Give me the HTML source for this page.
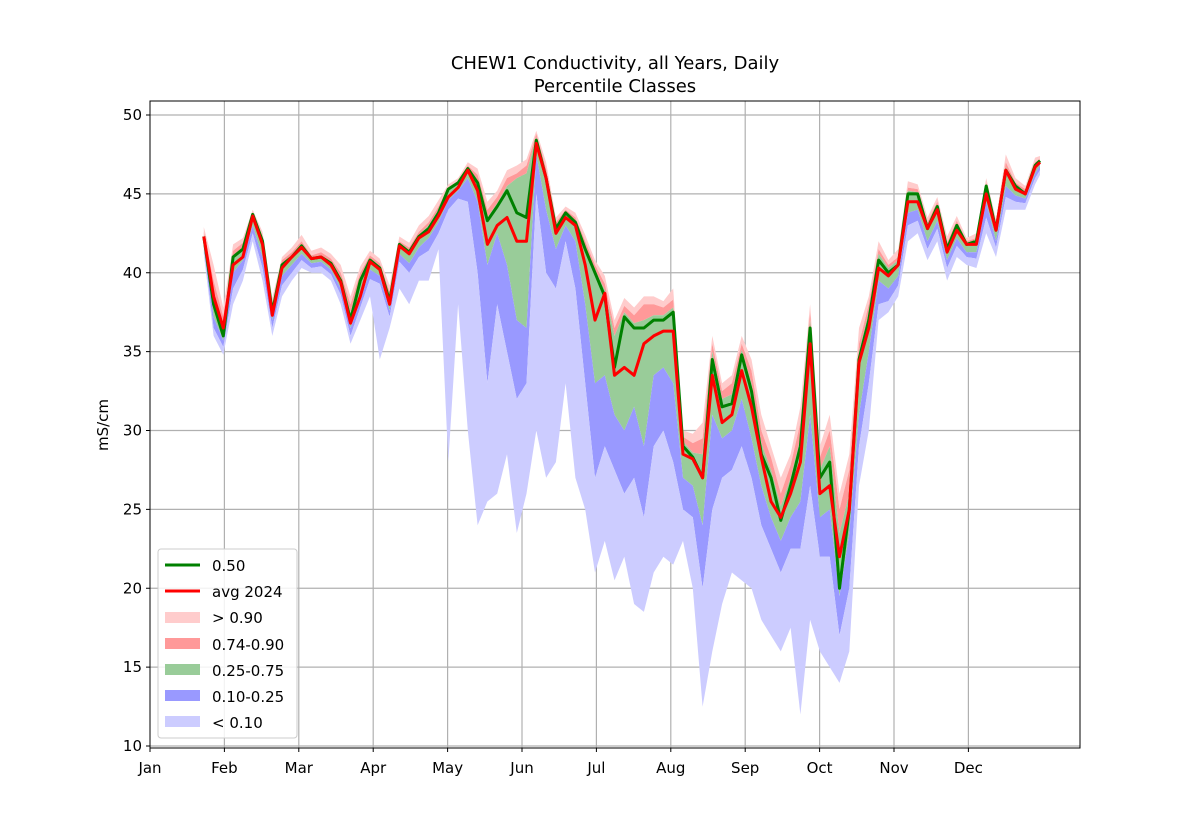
<!DOCTYPE html>
<html><head><meta charset="utf-8"><style>
html,body{margin:0;padding:0;background:#fff;}
svg{display:block;font-family:"DejaVu Sans","Liberation Sans",sans-serif;}
</style></head><body>
<svg id="chart" width="1200" height="840" viewBox="0 0 1200 840" xmlns="http://www.w3.org/2000/svg">
<rect x="0" y="0" width="1200" height="840" fill="#fff"/>
<text x="615" y="69" font-size="18" text-anchor="middle">CHEW1 Conductivity, all Years, Daily</text>
<text x="615" y="92" font-size="18" text-anchor="middle">Percentile Classes</text>
<g id="grid"></g>
<g id="bands"></g>
<g id="lines"></g>
<g id="axes"></g>
<text transform="translate(108,425) rotate(-90)" font-size="15" text-anchor="middle">mS/cm</text>
<g>
<rect x="158" y="549" width="139" height="189" rx="3" fill="#fff" fill-opacity="0.85" stroke="#ccc"/>
<line x1="165" y1="565" x2="200" y2="565" stroke="#008000" stroke-width="3"/>
<text x="212" y="571" font-size="15">0.50</text>
<line x1="165" y1="591" x2="200" y2="591" stroke="#ff0000" stroke-width="3"/>
<text x="212" y="597" font-size="15">avg 2024</text>
<rect x="165" y="612" width="35" height="11" fill="#ffcccc"/>
<text x="212" y="623" font-size="15">&gt; 0.90</text>
<rect x="165" y="638" width="35" height="11" fill="#ff9999"/>
<text x="212" y="650" font-size="15">0.74-0.90</text>
<rect x="165" y="664" width="35" height="11" fill="#99cc99"/>
<text x="212" y="676" font-size="15">0.25-0.75</text>
<rect x="165" y="690" width="35" height="11" fill="#9999ff"/>
<text x="212" y="702" font-size="15">0.10-0.25</text>
<rect x="165" y="716" width="35" height="11" fill="#ccccff"/>
<text x="212" y="728" font-size="15">&lt; 0.10</text>
</g>
</svg>
<script>
const days=[22,26,30,34,38,42,46,50,54,58,62,66,70,74,78,82,86,90,94,98,102,106,110,114,118,122,126,130,134,138,142,146,150,154,158,162,166,170,174,178,182,186,190,194,198,202,206,210,214,218,222,226,230,234,238,242,246,250,254,258,262,266,270,274,278,282,286,290,294,298,302,306,310,314,318,322,326,330,334,338,342,346,350,354,358,362,364];
const median=[42.3,38.0,36.0,41.0,41.5,43.7,42.0,37.5,40.5,41.0,41.7,40.9,41.0,40.6,39.5,37.0,39.5,40.8,40.3,38.2,41.8,41.3,42.3,42.8,43.8,45.3,45.7,46.6,45.7,43.3,44.2,45.2,43.8,43.5,48.4,46.0,42.8,43.8,43.2,41.5,40.0,38.5,34.0,37.2,36.5,36.5,37.0,37.0,37.5,29.0,28.3,27.0,34.5,31.5,31.7,34.8,32.5,28.5,27.0,24.3,26.5,29.0,36.5,27.0,28.0,20.0,25.0,34.5,37.0,40.8,40.0,40.5,45.0,45.0,42.8,44.2,41.5,43.0,41.8,42.0,45.5,42.7,46.5,45.5,45.0,46.8,47.1];
const avg2024=[42.3,38.5,36.5,40.5,41.0,43.6,41.8,37.3,40.3,41.0,41.6,40.9,41.0,40.5,39.4,36.8,38.5,40.7,40.2,38.0,41.7,41.2,42.2,42.6,43.6,44.8,45.4,46.5,45.2,41.8,43.0,43.5,42.0,42.0,48.2,46.0,42.5,43.5,43.0,40.5,37.0,38.7,33.5,34.0,33.5,35.5,36.0,36.3,36.3,28.5,28.2,27.0,33.5,30.5,31.0,33.8,31.5,28.3,25.5,24.5,26.0,28.0,35.5,26.0,26.5,22.0,25.0,34.3,36.5,40.3,39.8,40.5,44.5,44.5,42.8,44.0,41.3,42.7,41.8,41.8,45.0,42.7,46.5,45.3,45.0,46.7,47.0];
const pMax=[42.9,40.5,37.8,41.8,42.2,44.0,42.6,38.4,41.0,41.6,42.4,41.4,41.6,41.2,40.5,38.5,40.4,41.4,40.9,39.2,42.3,41.9,43.0,43.6,44.6,45.6,46.0,47.0,46.6,44.5,45.2,46.5,46.8,47.2,49.0,47.0,43.5,44.2,43.8,42.4,40.8,39.8,37.0,38.4,37.8,38.5,38.5,38.2,39.0,30.0,29.8,30.5,36.0,33.0,33.5,36.0,34.5,31.0,29.0,27.0,28.5,31.5,38.0,29.0,31.0,26.0,28.5,36.5,38.5,42.0,40.8,41.5,45.8,45.6,43.5,44.8,42.3,43.6,42.2,42.5,46.0,43.4,47.5,46.0,45.5,47.3,47.4];
const p90=[42.6,39.5,37.2,41.4,41.9,43.8,42.3,38.0,40.8,41.3,42.0,41.1,41.3,40.9,40.0,38.0,40.0,41.1,40.6,38.8,42.0,41.6,42.6,43.2,44.2,45.4,45.8,46.8,46.2,44.0,44.8,46.0,46.3,46.8,48.8,46.6,43.2,44.0,43.5,42.0,40.5,39.3,36.5,37.9,37.3,38.0,38.0,37.8,38.3,29.6,29.2,29.5,35.5,32.5,33.0,35.5,33.8,30.0,28.3,26.0,27.8,30.5,37.5,28.3,30.0,25.0,27.5,35.5,38.0,41.5,40.5,41.0,45.4,45.3,43.2,44.5,41.9,43.3,42.0,42.2,45.7,43.0,47.0,45.7,45.3,47.0,47.2];
const p75=[42.4,38.6,36.5,41.1,41.6,43.7,42.1,37.7,40.6,41.1,41.8,41.0,41.1,40.7,39.7,37.5,39.7,40.9,40.4,38.4,41.9,41.4,42.4,43.0,44.0,45.3,45.7,46.7,45.8,43.5,44.4,45.5,46.0,46.3,48.6,46.3,43.0,43.9,43.3,41.7,40.2,38.9,36.0,37.5,36.8,37.0,37.3,37.3,37.8,29.3,28.6,28.5,35.0,32.0,32.3,35.1,33.0,29.2,27.5,25.2,27.0,29.5,37.0,27.5,29.0,23.5,26.0,35.0,37.5,41.2,40.3,40.8,45.2,45.1,43.0,44.3,41.7,43.1,41.9,42.1,45.6,42.8,46.7,45.6,45.1,46.9,47.1];
const p25=[42.0,37.2,35.7,40.0,40.8,43.0,41.0,37.0,39.8,40.5,41.2,40.6,40.7,40.2,39.0,36.5,38.2,40.2,39.8,37.6,41.2,40.6,41.6,42.2,43.2,44.6,45.2,46.0,44.5,40.5,42.5,40.5,37.0,36.5,47.5,44.0,41.5,43.0,42.0,38.0,33.0,33.5,31.0,30.0,31.5,29.0,33.5,34.0,33.0,27.0,26.5,24.0,31.0,29.5,30.0,32.0,29.5,26.5,24.5,23.0,24.5,25.5,31.0,24.5,25.0,19.5,23.5,31.0,35.0,39.5,39.0,39.8,43.8,44.0,42.0,43.3,40.8,42.2,41.3,41.3,44.5,42.0,45.5,44.9,44.7,46.3,46.8];
const p10=[41.6,36.5,35.3,39.0,40.2,42.5,40.3,36.5,39.2,40.0,40.8,40.3,40.4,39.9,38.6,36.0,37.8,39.6,39.3,37.2,40.7,40.0,41.0,41.4,42.5,44.0,44.7,44.5,40.0,33.0,38.0,35.0,32.0,33.0,45.0,40.0,39.0,42.0,39.0,33.0,27.0,29.0,27.5,26.0,27.0,24.5,29.0,30.0,28.0,25.0,24.5,20.0,25.0,27.0,27.5,29.0,27.0,24.0,22.5,21.0,22.5,22.5,26.5,22.0,22.0,17.0,20.0,29.0,33.0,38.0,38.2,39.2,43.0,43.3,41.5,42.8,40.3,41.7,41.0,40.9,43.5,41.6,44.8,44.5,44.4,46.0,46.5];
const pMin=[41.2,36.0,34.8,38.0,39.5,42.0,39.5,36.0,38.5,39.5,40.3,40.0,40.0,39.5,38.0,35.5,37.0,38.5,34.5,36.5,39.0,38.0,39.5,39.5,41.5,28.0,38.0,30.0,24.0,25.5,26.0,28.5,23.5,26.0,30.0,27.0,28.0,33.0,27.0,25.0,21.0,23.0,20.5,22.0,19.0,18.5,21.0,22.0,21.5,23.0,20.0,12.5,16.0,19.0,21.0,20.5,20.0,18.0,17.0,16.0,17.5,12.0,18.0,16.0,15.0,14.0,16.0,26.5,30.0,37.0,37.5,38.5,42.0,42.5,40.8,42.0,39.5,41.0,40.5,40.3,42.5,41.0,44.0,44.0,44.0,45.6,46.2];
const monthLabels=["Jan","Feb","Mar","Apr","May","Jun","Jul","Aug","Sep","Oct","Nov","Dec"];
const yTicks=[10,15,20,25,30,35,40,45,50];

const NS="http://www.w3.org/2000/svg";
const L=150,R=1080,T=101,B=748;
const xs=d=>L+d*2.445;
const ys=v=>115+(50-v)*15.775;
function mk(tag,attrs,parent){const e=document.createElementNS(NS,tag);for(const k in attrs)e.setAttribute(k,attrs[k]);parent.appendChild(e);return e;}
const grid=document.getElementById('grid'),bands=document.getElementById('bands'),lines=document.getElementById('lines'),axes=document.getElementById('axes');
yTicks.forEach(v=>{
  const g=mk('line',{x1:L,x2:R,y1:ys(v),y2:ys(v),stroke:'#b0b0b0','stroke-width':1.2},grid);
  
  
  mk('line',{x1:L-4,x2:L,y1:ys(v),y2:ys(v),stroke:'#000'},axes);
  const t=mk('text',{x:L-8,y:ys(v)+5,'font-size':15,'text-anchor':'end'},axes);
  
  
  t.textContent=v;
});
monthLabels.forEach((m,i)=>{
  const x=L+i*74.4;
  if(i>0){const g=mk('line',{x1:x,x2:x,y1:T,y2:B,stroke:'#b0b0b0','stroke-width':1.2},grid);
  
  }
  mk('line',{x1:x,x2:x,y1:B,y2:B+4,stroke:'#000'},axes);
  const t=mk('text',{x:x,y:B+25,'font-size':15,'text-anchor':'middle'},axes);
  
  
  t.textContent=m;
});
mk('rect',{x:L,y:T,width:R-L,height:B-T,fill:'none',stroke:'#000','stroke-width':1},axes);
function band(top,bot,color,name){
  let d='M'+days.map((dd,i)=>xs(dd).toFixed(1)+','+ys(top[i]).toFixed(1)).join('L');
  for(let i=days.length-1;i>=0;i--)d+='L'+xs(days[i]).toFixed(1)+','+ys(bot[i]).toFixed(1);
  const p=mk('path',{d:d+'Z',fill:color,stroke:'none'},bands);
  
  
}
band(pMax,p90,'#ffcccc','band-gt-090');
band(p90,p75,'#ff9999','band-074-090');
band(p75,p25,'#99cc99','band-025-075');
band(p25,p10,'#9999ff','band-010-025');
band(p10,pMin,'#ccccff','band-lt-010');
function line(vals,color,name){
  const d='M'+days.map((dd,i)=>xs(dd).toFixed(1)+','+ys(vals[i]).toFixed(1)).join('L');
  const p=mk('path',{d:d,fill:'none',stroke:color,'stroke-width':3,'stroke-linejoin':'round'},lines);
  
  
}
line(median,'#008000','median-line');
line(avg2024,'#ff0000','avg-2024-line');
</script>
</body></html>
